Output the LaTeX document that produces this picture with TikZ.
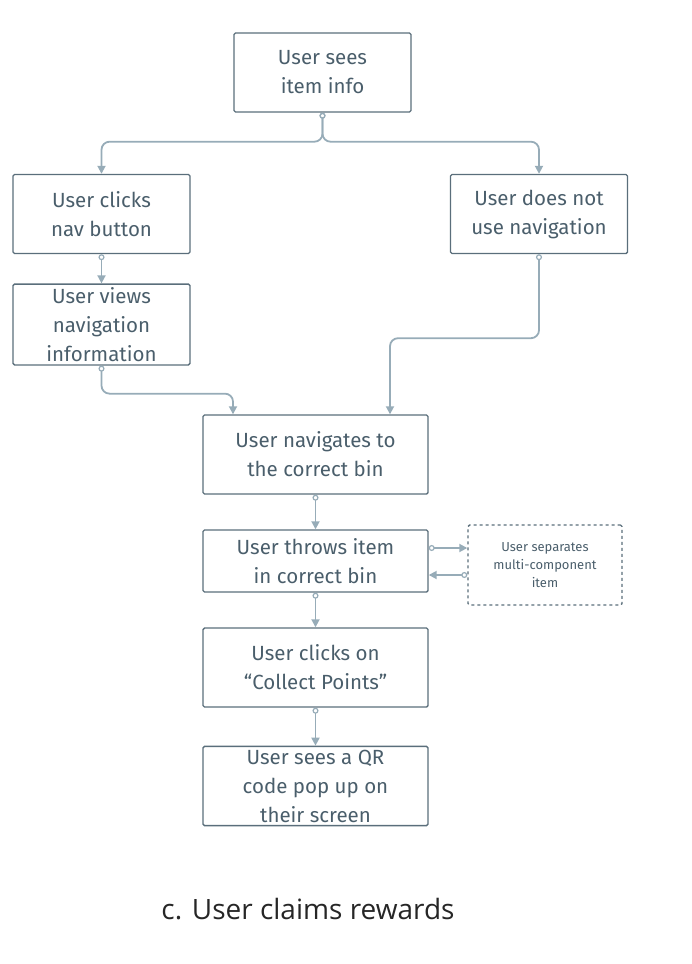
\documentclass[tikz,border=0pt]{standalone}
\usepackage{fontspec}
\setmainfont{Fira Sans}
\newfontfamily\captionfont{Open Sans}
\usepackage{tikz}
\usetikzlibrary{arrows.meta}
\definecolor{boxline}{HTML}{5A6E7B}
\definecolor{boxtext}{HTML}{4A5E6B}
\definecolor{flowline}{HTML}{97ACB8}
\tikzstyle{action}=[draw=boxline, line width=1.4pt, text=boxtext,
  minimum width=177, minimum height=79, align=center, rounded corners=1.5pt,
  font=\fontsize{20.5}{29}\selectfont]
\tikzstyle{wideaction} = [action, minimum width=225]
\tikzstyle{sideaction} = [action, dashed, minimum width=154, minimum height=80,
  font=\fontsize{13}{18}\selectfont]
\tikzstyle{line} = [draw, line width=1.8pt, color=flowline, rounded corners=8pt,
  {Circle[open,length=6pt,width=6pt,line width=1.2pt]}-{Triangle[length=8pt,width=8pt]}]
\newcommand{\userstep}[3]{node (s#1) [#2] {#3}}

\begin{document}
\begin{tikzpicture}[x=1pt,y=-1pt]
\useasboundingbox (0,0) rectangle (691,964);

  % Steps of the flow
\path (322.5,72.5) \userstep{1}{action}{User sees\\item info};
\path (s1)+(-221,141.5) \userstep{2}{action}{User clicks\\nav button};
\path (s1)+(216.5,141.5) \userstep{3}{action}{User does not\\use navigation};
\path (s2)+(0,110.5) \userstep{4}{action}{User views\\navigation\\information};
\path (s1)+(-7,382) \userstep{5}{wideaction}{User navigates to\\the correct bin};
\path (s5)+(0,106.5) \userstep{6}{wideaction, minimum height=62}{User throws item\\in correct bin};
\path (s6)+(229.5,4) \userstep{7}{sideaction}{User separates\\multi-component\\item};
\path (s6)+(0,106.5) \userstep{8}{wideaction}{User clicks on\\``Collect Points''};
\path (s8)+(0,118.5) \userstep{9}{wideaction}{User sees a QR\\code pop up on\\their screen};

\path (308,909) node (cap) [font=\captionfont\fontsize{28}{32}\selectfont, text=black!85]
  {c. User claims rewards};

  % Arrows between steps
\path [line] (s1.south) -- +(0,29) -| (s2.north);
\path [line] (s1.south) -- +(0,29) -| (s3.north);
\path [line] (s2.south) -- (s4.north);
\path [line] (s4.south) -- +(0,28) -| ([xshift=-82.5]s5.north);
\path [line] (s3.south) -- +(0,84) -| ([xshift=74.5]s5.north);
\path [line] (s5.south) -- (s6.north);
\path [line, rounded corners=0pt] ([yshift=13]s6.east) -- ([yshift=13]s6.east -| s7.west);
\path [line, rounded corners=0pt] ([yshift=-14]s6.east -| s7.west) -- ([yshift=-14]s6.east);
\path [line] (s6.south) -- (s8.north);
\path [line] (s8.south) -- (s9.north);
\end{tikzpicture}
\end{document}
